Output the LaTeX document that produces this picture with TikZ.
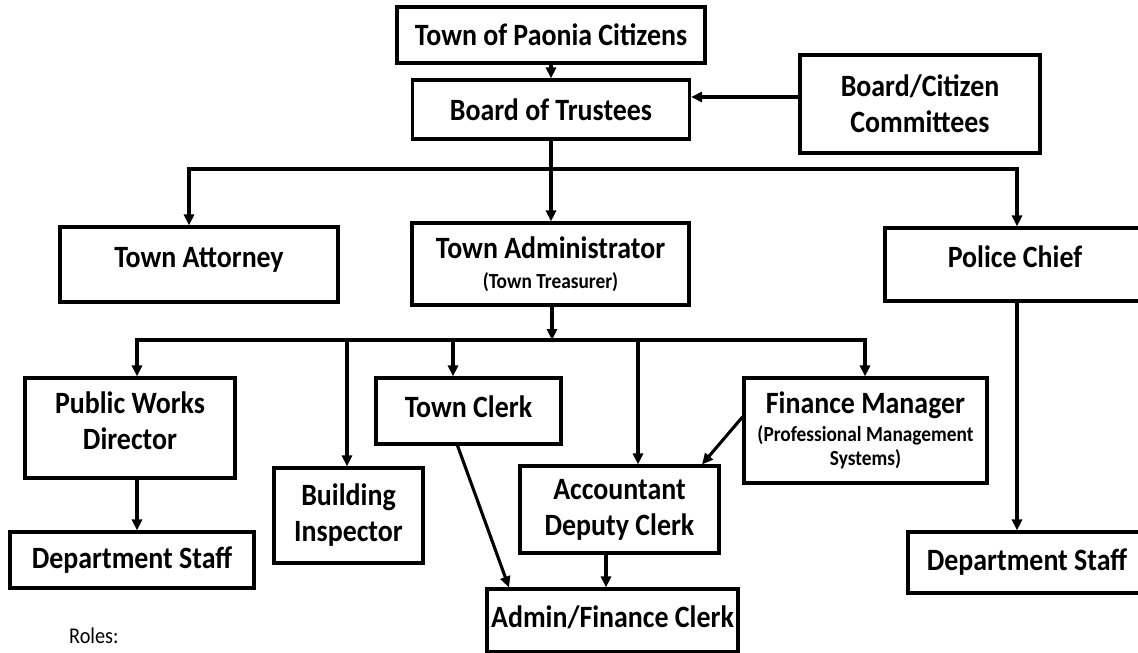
\documentclass[tikz,border=0pt]{standalone}
\usepackage{fontspec}
\setmainfont{Carlito}[FakeStretch=0.9]
\usetikzlibrary{arrows.meta,calc}
\newcommand{\subtxt}{\fontsize{21.5}{24}\selectfont}
\begin{document}
\begin{tikzpicture}[x=1pt,y=-1pt,
  box/.style={draw=black,line width=3.1pt,fill=white,align=center,inner sep=0pt,
              font=\bfseries\fontsize{31}{36}\selectfont},
  lift/.style={text height=20pt,text depth=#1},
  arr/.style={line width=3.1pt,-{Triangle[length=11pt,width=10pt]}},
  link/.style={line width=3.1pt}]
\fill[white] (0,0) rectangle (1138,653);
\useasboundingbox (0,0) rectangle (1138,653);

% top of the chart
\node[box,minimum width=308pt,minimum height=56pt] (cit) at (551,35) {Town of Paonia Citizens};
\node[box,minimum width=277pt,minimum height=59pt] (bot) at (551,109.5) {Board of Trustees};
\node[box,minimum width=240pt,minimum height=98pt] (com) at (920,104) {Board/Citizen\\Committees};

% second level
\node[box,minimum width=278pt,minimum height=75pt,lift=15pt] (att) at (199,264.5) {Town Attorney};
\node[box,minimum width=277pt,minimum height=82pt] (adm) at (550.5,264)
  {Town Administrator\\[-6pt]{\subtxt (Town Treasurer)}};
\node[box,minimum width=260pt,minimum height=73pt,lift=15pt] (pol) at (1015,264.5) {Police Chief};

% staff under the administrator
\node[box,minimum width=210pt,minimum height=100pt,text height=56pt,text depth=14pt] (pwd) at (130,428) {Public Works\\Director};
\node[box,minimum width=149pt,minimum height=95pt] (bld) at (348.5,515.5) {Building\\Inspector};
\node[box,minimum width=185pt,minimum height=66pt,lift=8pt] (clk) at (468.5,411) {Town Clerk};
\node[box,minimum width=199pt,minimum height=87pt] (acc) at (619.5,509.5) {Accountant\\Deputy Clerk};
\node[box,minimum width=243pt,minimum height=105pt] (fin) at (865.5,430.5)
  {Finance Manager\\[-8pt]{\subtxt (Professional Management}\\[-12pt]{\subtxt Systems)}};
\node[box,minimum width=244pt,minimum height=56pt] (ds1) at (132,560) {Department Staff};
\node[box,minimum width=251pt,minimum height=63pt,lift=6pt] (afc) at (612.5,620.5) {Admin/Finance Clerk};
\node[box,minimum width=238pt,minimum height=61pt] (ds2) at (1027,562.5) {Department Staff};

\node[font=\fontsize{22.5}{24}\selectfont,anchor=west,inner sep=0pt] (roles) at (69,636) {Roles:};

% connectors
\draw[arr] (cit.south) -- (cit.south |- bot.north);
\draw[arr] ([yshift=7pt]com.west) -- ([yshift=7pt]com.west -| bot.east);

\coordinate (hubA) at (551,169);
\coordinate (busL) at (189,169);
\coordinate (busR) at (1017,169);
\draw[link] (bot.south) -- (hubA);
\draw[arr] (hubA) -| (busL |- att.north);
\draw[arr] (hubA) -| (busR |- pol.north);
\draw[arr] (hubA) -- (hubA |- adm.north);
\draw[arr] (busR |- pol.south) -- (busR |- ds2.north);

\coordinate (hubB) at (552,340);
\coordinate (d1) at (137,340);
\coordinate (d2) at (347,340);
\coordinate (d3) at (453,340);
\coordinate (d4) at (638,340);
\coordinate (d5) at (865,340);
\draw[arr] (hubB |- adm.south) -- (hubB);
\draw[arr] (hubB) -| (d1 |- pwd.north);
\draw[arr] (hubB) -| (d5 |- fin.north);
\draw[arr] (d2) -- (d2 |- bld.north);
\draw[arr] (d3) -- (d3 |- clk.north);
\draw[arr] (d4) -- (d4 |- acc.north);

\draw[arr] (d1 |- pwd.south) -- (d1 |- ds1.north);
\draw[arr] ([xshift=-11pt]clk.south) -- ([xshift=-103.5pt]afc.north);
\draw[arr] ([yshift=13.5pt]fin.west) -- ([xshift=82.5pt]acc.north);
\draw[arr] ([xshift=-13.5pt]acc.south) -- ([xshift=-13.5pt]acc.south |- afc.north);
\end{tikzpicture}
\end{document}
